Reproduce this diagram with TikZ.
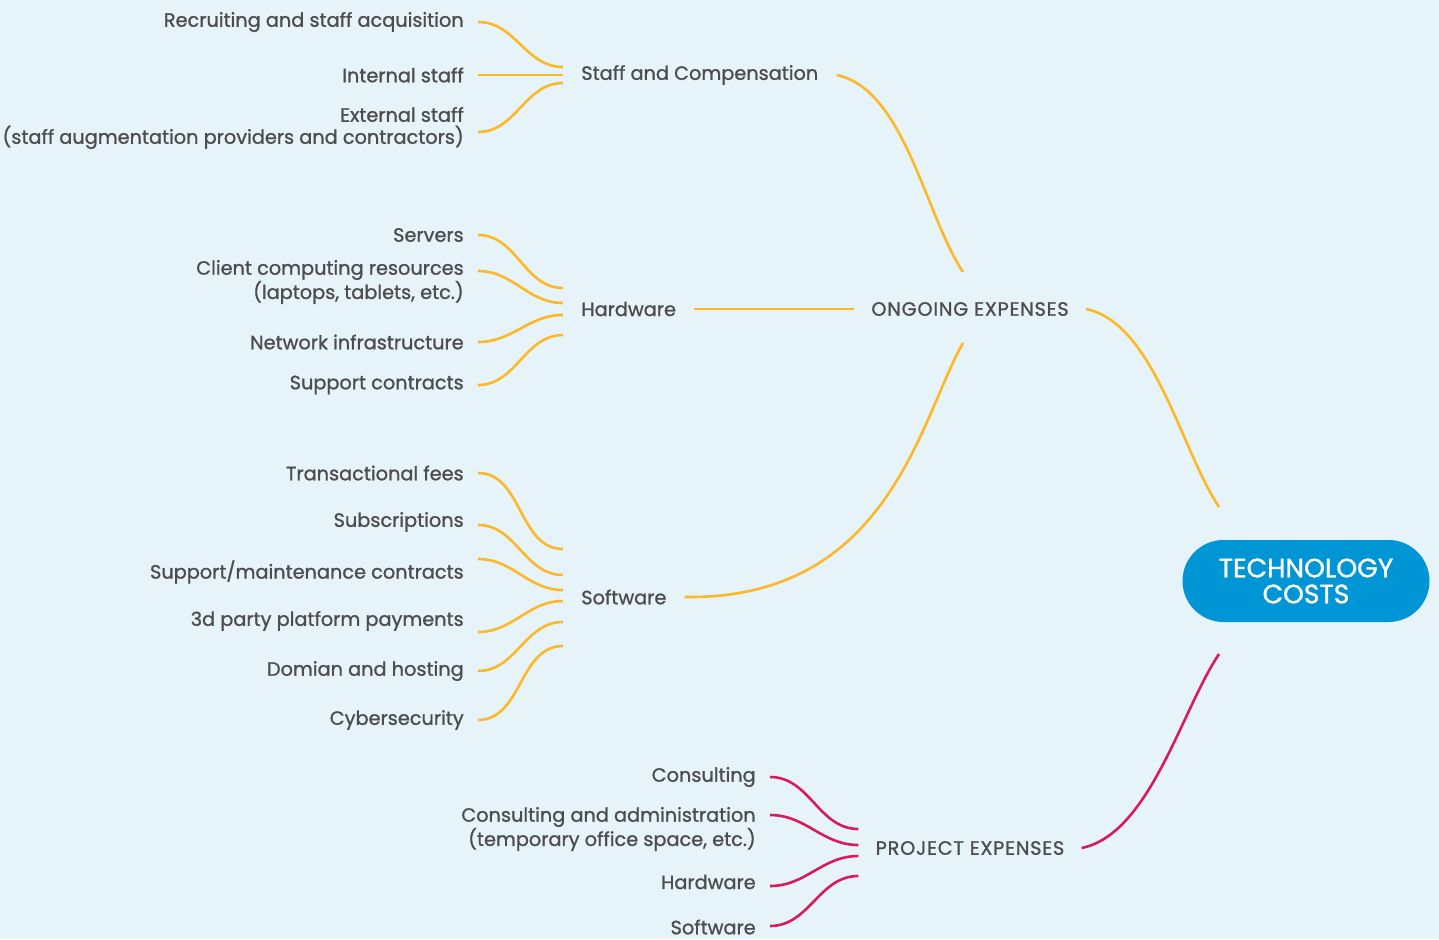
\documentclass[tikz,border=0pt]{standalone}
\usepackage{fontspec}
\setmainfont{Poppins}[UprightFeatures={FakeBold=1.1}]
\definecolor{bgblue}{HTML}{E6F3F9}
\definecolor{ongoing}{HTML}{FDB827}
\definecolor{project}{HTML}{D81B60}
\definecolor{rootblue}{HTML}{0096D6}
\definecolor{txt}{HTML}{4D4D4F}
\tikzstyle{every node}=[font=\fontsize{19.3}{22}\selectfont,text=txt]

\begin{document}
\begin{tikzpicture}[x=1pt,y=-1pt,line width=2.6pt]
  \tikzstyle{leaf}=[anchor=east,align=right,inner xsep=13pt,inner ysep=1pt]
  \tikzstyle{branch}=[anchor=west,inner xsep=17pt,inner ysep=1pt]
  \tikzstyle{group}=[inner xsep=16pt,inner ysep=1pt,
                     font=\fontsize{19.3}{22}\selectfont\addfontfeatures{LetterSpace=4}]
  \tikzstyle{ong}=[color=ongoing]
  \tikzstyle{prj}=[color=project]
  \tikzstyle{sbend}=[out=0,in=180]

  \fill[bgblue] (0,0) rectangle (1439,939);
  \useasboundingbox (0,0) rectangle (1439,939);

  \node[fill=rootblue,text=white,rounded corners=41pt,minimum width=247pt,
        minimum height=82pt,align=center,font=\fontsize{26.5}{26}\selectfont]
        (root) at (1306,581) {TECHNOLOGY\\COSTS};

  \node[group] (og) at (970,309) {ONGOING EXPENSES};
  \node[group] (pj) at (970,848) {PROJECT EXPENSES};

  % staff
  \node[branch] (staff) at (563,75) {Staff and Compensation};
  \node[leaf]   (rec)   at (478,22)  {Recruiting and staff acquisition};
  \node[leaf]   (int)   at (478,75)  {Internal staff};
  \node[leaf]   (ext)   at (478,128) {External staff\\(staff augmentation providers and contractors)};

  % hardware
  \node[branch] (hw)  at (563,309) {Hardware};
  \node[leaf]   (srv) at (478,235) {Servers};
  \node[leaf]   (cli) at (478,282) {Client computing resources\\(laptops, tablets, etc.)};
  \node[leaf]   (net) at (478,342) {Network infrastructure};
  \node[leaf]   (sup) at (478,385) {Support contracts};

  % software
  \node[branch] (sw)    at (563,597) {Software};
  \node[leaf]   (trans) at (478,473) {Transactional fees};
  \node[leaf]   (subs)  at (478,522) {Subscriptions};
  \node[leaf]   (maint) at (478,572) {Support/maintenance contracts};
  \node[leaf]   (third) at (478,621) {3d party platform payments};
  \node[leaf]   (dom)   at (478,671) {Domian and hosting};
  \node[leaf]   (cyber) at (478,720) {Cybersecurity};

  % project
  \node[leaf] (cons) at (770,777) {Consulting};
  \node[leaf] (cadm) at (770,829) {Consulting and administration\\(temporary office space, etc.)};
  \node[leaf] (phw)  at (770,882) {Hardware};
  \node[leaf] (psw)  at (770,927) {Software};

  \path[ong] (rec) edge[sbend] ([yshift=8pt]staff.west)
             (int) edge[sbend] (staff.west)
             ([yshift=-4pt]ext.east) edge[sbend] ([yshift=-8pt]staff.west)
             (srv) edge[sbend] ([yshift=21pt]hw.west)
             ([yshift=11pt]cli.east) edge[sbend] ([yshift=6pt]hw.west)
             (net) edge[sbend] ([yshift=-6pt]hw.west)
             (sup) edge[sbend] ([yshift=-26pt]hw.west)
             (trans) edge[sbend] ([yshift=48pt]sw.west)
             ([yshift=-3pt]subs.east) edge[sbend] ([yshift=22pt]sw.west)
             ([yshift=13pt]maint.east) edge[sbend] ([yshift=7pt]sw.west)
             ([yshift=-11pt]third.east) edge[sbend] ([yshift=-4pt]sw.west)
             (dom) edge[sbend] ([yshift=-25pt]sw.west)
             (cyber) edge[sbend] ([yshift=-49pt]sw.west);

  \draw[ong] (staff.east) .. controls +(68,14) and +(-38,-57) .. ([xshift=-7pt,yshift=37pt]og.center);
  \draw[ong] (hw.east) -- (og.west);
  \draw[ong] (sw.east) .. controls +(205,3) and +(-43,75) .. ([xshift=-7pt,yshift=-34pt]og.center);
  \draw[ong] (og.east) .. controls +(68,14) and +(-38,-57) .. ([xshift=-87pt,yshift=74pt]root.center);

  \path[prj] (cons) edge[sbend] ([yshift=19pt]pj.west)
             ([yshift=14pt]cadm.east) edge[sbend] ([yshift=3pt]pj.west)
             ([yshift=-4pt]phw.east) edge[sbend] ([yshift=-8pt]pj.west)
             ([yshift=1pt]psw.east) edge[sbend] ([yshift=-28pt]pj.west);
  \draw[prj] (pj.east) .. controls +(68,-14) and +(-38,57) .. ([xshift=-87pt,yshift=-73pt]root.center);
\end{tikzpicture}
\end{document}
